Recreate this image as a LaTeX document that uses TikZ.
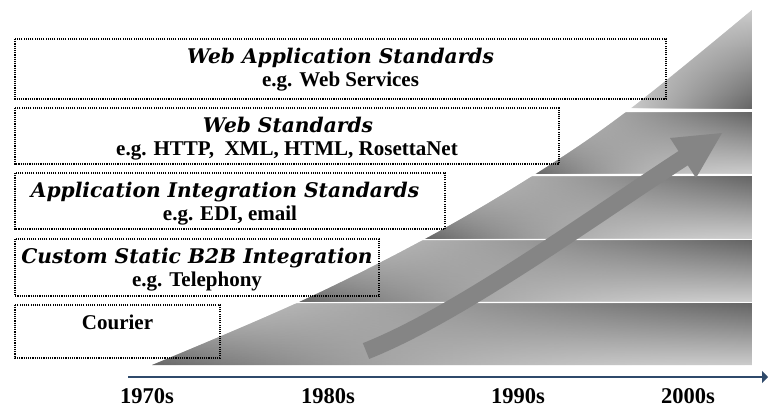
\documentclass[tikz,border=0pt]{standalone}
\usepackage{fontspec}
\setmainfont{Liberation Serif}
\newfontfamily\headfont{DejaVu Serif}
\usetikzlibrary{arrows.meta,fadings}
\definecolor{bandlight}{gray}{0.80}
\definecolor{banddark}{gray}{0.40}
\definecolor{arrowgray}{gray}{0.52}
\definecolor{axisblue}{HTML}{2F4A6B}
\tikzfading[name=leftside, left color=transparent!0, middle color=transparent!100, right color=transparent!100]
\tikzfading[name=rightside, left color=transparent!100, middle color=transparent!100, right color=transparent!0]
\tikzfading[name=rightwide, left color=transparent!100, middle color=transparent!60, right color=transparent!0]
\begin{document}
\begin{tikzpicture}[x=1pt,y=-1pt,
  tbox/.style={draw=black, line width=1.1pt, dash pattern=on 1.1pt off 1.1pt},
  head/.style={font=\headfont\bfseries\itshape\fontsize{20.2}{24}\selectfont, anchor=base, inner sep=0pt},
  sub/.style={font=\bfseries\fontsize{21}{25}\selectfont, anchor=base, inner sep=0pt},
  year/.style={font=\bfseries\fontsize{22.5}{27}\selectfont, anchor=base, inner sep=0pt},
  bandfill/.style={fill=bandlight},
  bandleft/.style={shading=axis, top color=bandlight, bottom color=banddark, path fading=leftside},
  bandright/.style={shading=axis, top color=banddark, bottom color=bandlight, path fading=rightwide},
  topright/.style={shading=axis, top color=bandlight, bottom color=banddark, path fading=rightside},
  bigarrow/.style={arrowgray},
  axisline/.style={axisblue, line width=2.5pt, -{Triangle[length=6pt,width=12pt]}}
]
\useasboundingbox (0,0) rectangle (768,408);

% wedge with bands
\begin{scope}
  \clip plot[smooth, tension=0.6] coordinates {(152,365) (298,302.5) (424,239.5) (534,175) (628,110.5) (752,10)} -- (752,365) -- cycle;
  \fill[bandfill] (628,10) rectangle (752,108);
  \shade[topright] (628,10) rectangle (752,108);
  \foreach \yt/\yb/\xl in {113/173/534, 177/238/425, 241/301/298, 304/365/152}{
    \fill[bandfill] (\xl,\yt) rectangle (752,\yb);
    \shade[bandleft] (\xl,\yt) rectangle (752,\yb);
    \shade[bandright] (\xl,\yt) rectangle (752,\yb);
  }
\end{scope}

% big arrow
\coordinate (tail) at (366,351);
\coordinate (base) at (685,157);
\coordinate (tip) at (722,133);
\coordinate (barbL) at (670,138);
\coordinate (barbR) at (696,178);
\draw[bigarrow, line width=17pt] (tail) .. controls (459,314.5) and (599,212.5) .. (base);
\fill[bigarrow] (tip) -- (barbL) -- (barbR) -- cycle;

% boxes
\draw[tbox] (15,39) rectangle (666,99);
\draw[tbox] (15,108) rectangle (559,164);
\draw[tbox] (15,173) rectangle (445,229);
\draw[tbox] (15,239) rectangle (379,296);
\draw[tbox] (15,305) rectangle (220,358);

\node[head] (h1) at (340.5,63) {Web Application Standards};
\node[sub]  (s1) at (340.5,86) {e.g. Web Services};
\node[head] (h2) at (288,132) {Web Standards};
\node[sub]  (s2) at (287,155) {e.g. HTTP,\ \ XML, HTML, RosettaNet};
\node[head] (h3) at (225,197) {Application Integration Standards};
\node[sub]  (s3) at (230,220) {e.g. EDI, email};
\node[head] (h4) at (197,263) {Custom Static B2B Integration};
\node[sub]  (s4) at (197,286) {e.g. Telephony};
\node[sub]  (s5) at (117.5,329) {Courier};

% axis
\coordinate (axstart) at (128,377);
\coordinate (axend) at (768,377);
\draw[axisline] (axstart) -- (axend);
\node[year] (y1) at (147,403) {1970s};
\node[year] (y2) at (328,403) {1980s};
\node[year] (y3) at (518,403) {1990s};
\node[year] (y4) at (688,403) {2000s};
\end{tikzpicture}
\end{document}
